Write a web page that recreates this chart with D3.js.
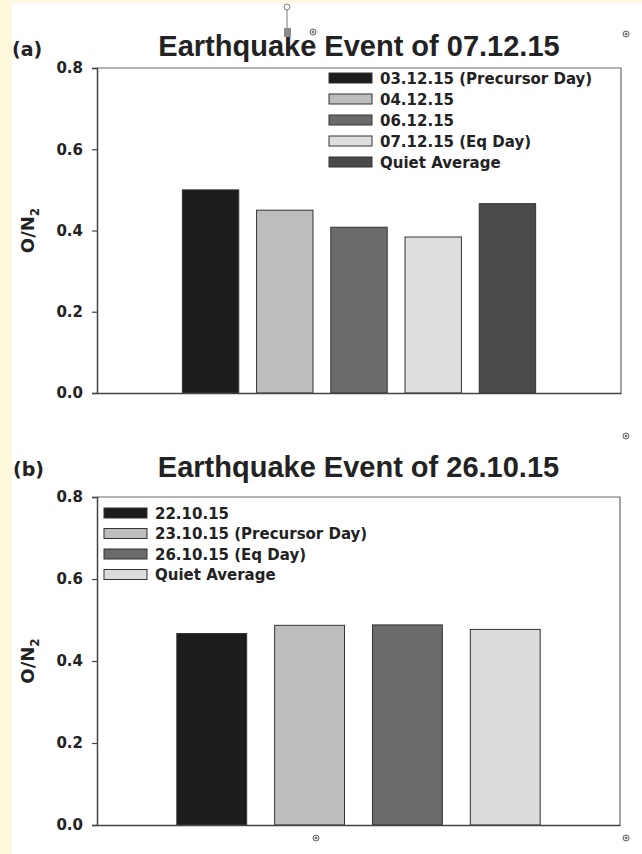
<!DOCTYPE html>
<html>
<head>
<meta charset="utf-8">
<script src="https://cdn.jsdelivr.net/npm/d3@7"></script>
<style>
  html, body { margin: 0; padding: 0; background: #ffffff; }
  svg { display: block; font-family: "DejaVu Sans", "Liberation Sans", Arial, sans-serif; }
</style>
</head>
<body>
<svg id="chart" width="642" height="854"></svg>
<script>
// Panel (a): Earthquake event of 07.12.15
const catsA = ["03.12.15 (Precursor Day)", "04.12.15", "06.12.15", "07.12.15 (Eq Day)", "Quiet Average"];
const valsA = [0.50, 0.45, 0.408, 0.384, 0.466];
const fillA = ["#1c1c1c", "#bdbdbd", "#6b6b6b", "#dedede", "#4a4a4a"];

// Panel (b): Earthquake event of 26.10.15
const catsB = ["22.10.15", "23.10.15 (Precursor Day)", "26.10.15 (Eq Day)", "Quiet Average"];
const valsB = [0.467, 0.487, 0.488, 0.477];
const fillB = ["#1c1c1c", "#bdbdbd", "#6a6a6a", "#dcdcdc"];

const yTicks = [0.0, 0.2, 0.4, 0.6, 0.8];

const FONT = "DejaVu Sans, Liberation Sans, Arial, sans-serif";
const TITLE_FONT = "Liberation Sans, Arial, sans-serif";
const svg = d3.select("#chart");

// page background with the yellow margin strips
svg.append("rect").attr("x", 0).attr("y", 0).attr("width", 642).attr("height", 854).attr("fill", "#ffffff");
svg.append("rect").attr("x", 0).attr("y", 0).attr("width", 12).attr("height", 854).attr("fill", "#fef9dc");
svg.append("rect").attr("x", 0).attr("y", 0).attr("width", 642).attr("height", 3).attr("fill", "#fef9dc");

function panel(opts) {
  const { cats, vals, fills, top, bottom, left, right, title, tag, titleY, tagY,
          padIn, padOut, legX, legY, legStep } = opts;
  const g = svg.append("g").attr("font-family", FONT);

  const x = d3.scaleBand().domain(cats).range([left, right])
    .paddingInner(padIn).paddingOuter(padOut);
  const y = d3.scaleLinear().domain([0, 0.8]).range([bottom, top]);

  // frame (top and right)
  g.append("path")
    .attr("d", `M${left},${top}H${right}V${bottom}`)
    .attr("fill", "none").attr("stroke", "#6a6a6a").attr("stroke-width", 1.2);

  // bars
  g.selectAll("rect.bar").data(vals).join("rect")
    .attr("class", "bar")
    .attr("x", (d, i) => x(cats[i]))
    .attr("width", x.bandwidth())
    .attr("y", d => y(d))
    .attr("height", d => y(0) - y(d))
    .attr("fill", (d, i) => fills[i])
    .attr("stroke", "#333333").attr("stroke-width", 1);

  // left axis
  const ax = g.append("g").attr("transform", `translate(${left},0)`)
    .call(d3.axisLeft(y).tickValues(yTicks).tickFormat(d3.format(".1f")).tickSize(5).tickPadding(9));
  ax.select(".domain").attr("stroke", "#444").attr("stroke-width", 1.5);
  ax.selectAll(".tick line").attr("stroke", "#444").attr("stroke-width", 1.2);
  ax.selectAll(".tick text")
    .attr("font-family", FONT)
    .attr("font-size", 15).attr("font-weight", "bold").attr("fill", "#222");

  // bottom axis line
  const bx = g.append("g").attr("transform", `translate(0,${bottom})`)
    .call(d3.axisBottom(x).tickSize(0).tickFormat(""));
  bx.select(".domain").attr("stroke", "#444").attr("stroke-width", 1.5);

  // y axis title O/N2
  const yl = g.append("text")
    .attr("transform", `translate(34,${(top + bottom) / 2}) rotate(-90)`)
    .attr("text-anchor", "middle")
    .attr("font-size", 18).attr("font-weight", "bold").attr("fill", "#222");
  yl.append("tspan").text("O/N");
  yl.append("tspan").attr("dy", 5).attr("font-size", 12).text("2");

  // title and panel tag
  g.append("text").attr("x", (left + right) / 2).attr("y", titleY)
    .attr("text-anchor", "middle").attr("font-family", TITLE_FONT)
    .attr("font-size", 29).attr("font-weight", "bold")
    .attr("fill", "#222").text(title);
  g.append("text").attr("x", tag[0]).attr("y", tagY)
    .attr("font-size", 19).attr("font-weight", "bold").attr("fill", "#222").text(tag[1]);

  // legend
  const lg = g.append("g");
  cats.forEach((c, i) => {
    const cy = legY + i * legStep;
    lg.append("rect").attr("x", legX).attr("y", cy - 5).attr("width", 43).attr("height", 10)
      .attr("fill", fills[i]).attr("stroke", "#333").attr("stroke-width", 1);
    lg.append("text").attr("x", legX + 51).attr("y", cy + 5.5)
      .attr("font-size", 15).attr("font-weight", "bold").attr("fill", "#222").text(c);
  });
}

panel({
  cats: catsA, vals: valsA, fills: fillA,
  top: 68, bottom: 393, left: 97, right: 621,
  title: "Earthquake Event of 07.12.15", tag: [12, "(a)"], titleY: 56, tagY: 56,
  padIn: 0.24, padOut: 1.15, legX: 329, legY: 78, legStep: 21
});

panel({
  cats: catsB, vals: valsB, fills: fillB,
  top: 497, bottom: 825, left: 97, right: 620,
  title: "Earthquake Event of 26.10.15", tag: [13, "(b)"], titleY: 477, tagY: 476,
  padIn: 0.286, padOut: 0.816, legX: 104, legY: 513, legStep: 20.5
});

// selection handle and anchor markers left on the figure
const marks = svg.append("g");
marks.append("line").attr("x1", 287).attr("x2", 287).attr("y1", 10).attr("y2", 30)
  .attr("stroke", "#777").attr("stroke-width", 1);
marks.append("circle").attr("cx", 287).attr("cy", 7).attr("r", 3)
  .attr("fill", "#fff").attr("stroke", "#777").attr("stroke-width", 1);
marks.append("rect").attr("x", 284).attr("y", 28).attr("width", 7).attr("height", 9)
  .attr("fill", "#8a8a8a");
[[313, 32], [626, 34], [626, 436], [316, 838], [626, 838]].forEach(([cx, cy]) => {
  marks.append("circle").attr("cx", cx).attr("cy", cy).attr("r", 3)
    .attr("fill", "#ddd").attr("stroke", "#666").attr("stroke-width", 1);
  marks.append("circle").attr("cx", cx).attr("cy", cy).attr("r", 1).attr("fill", "#555");
});
</script>
</body>
</html>
